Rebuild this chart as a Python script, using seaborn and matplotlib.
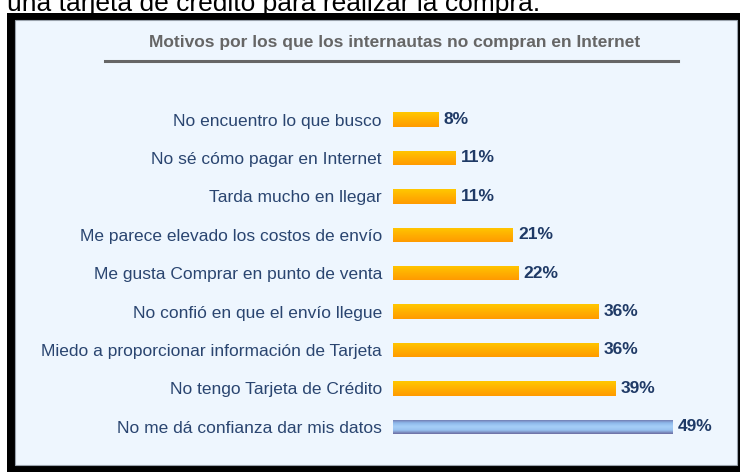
import matplotlib.pyplot as plt
import numpy as np
import pandas as pd
import seaborn as sns
from matplotlib.patches import Rectangle
from matplotlib.colors import LinearSegmentedColormap

motivos = [
    "No encuentro lo que busco",
    "No sé cómo pagar en Internet",
    "Tarda mucho en llegar",
    "Me parece elevado los costos de envío",
    "Me gusta Comprar en punto de venta",
    "No confió en que el envío llegue",
    "Miedo a proporcionar información de Tarjeta",
    "No tengo Tarjeta de Crédito",
    "No me dá confianza dar mis datos",
]
porcentajes = [8, 11, 11, 21, 22, 36, 36, 39, 49]

df = pd.DataFrame({"motivo": motivos, "pct": porcentajes})

W, H = 740, 472
fig = plt.figure(figsize=(W / 100, H / 100), dpi=100)
fig.patch.set_facecolor("white")

# black frame + light panel (pixel coords from top-left)
fig.patches.append(Rectangle((7 / W, 0), 1, 1 - 13 / H, transform=fig.transFigure,
                             facecolor="black", edgecolor="none", zorder=-5))
fig.patches.append(Rectangle((15 / W, 1 - 465 / H), (737 - 15) / W, (465 - 20) / H,
                             transform=fig.transFigure, facecolor="#EEF6FE",
                             edgecolor="#9aa3ad", linewidth=0.8, zorder=-4))

# cut-off line of text above the chart (cropped in the original too)
fig.text(7 / W, 1 - 11 / H, "una tarjeta de crédito para realizar la compra.",
         fontsize=19, family="Liberation Sans", color="black", va="baseline")

fig.text(395 / W, 1 - 42 / H, "Motivos por los que los internautas no compran en Internet",
         fontsize=12.5, fontweight="bold", color="#666666", family="Liberation Sans",
         ha="center", va="center")
fig.add_artist(plt.Line2D([105 / W, 678 / W], [1 - 61 / H, 1 - 61 / H],
                          color="#666666", linewidth=2.2, transform=fig.transFigure))

ax = fig.add_axes([393 / W, 1 - 446 / H, 327 / W, 345.6 / H])
ax.patch.set_alpha(0)
sns.barplot(data=df, x="pct", y="motivo", orient="h", color="#FFB300",
            width=0.38, ax=ax, linewidth=0)

xmax = 327 / 5.714
ax.set_xlim(0, xmax)
ylim = ax.get_ylim()

naranja = LinearSegmentedColormap.from_list("nar", ["#FFC800", "#FFB000", "#FF9A00"])
azul = LinearSegmentedColormap.from_list(
    "az", ["#6A6AA0", "#8DB8EA", "#A6CFF8", "#98C2F0", "#6A699E"])
grad = np.linspace(0, 1, 64).reshape(-1, 1)
for i, p in enumerate(ax.patches):
    x0, y0 = p.get_x(), p.get_y()
    w, h = p.get_width(), p.get_height()
    cmap = azul if i == len(ax.patches) - 1 else naranja
    im = ax.imshow(grad, cmap=cmap, aspect="auto", extent=(x0, x0 + w, y0 + h, y0),
                   zorder=3, interpolation="bicubic")
    im.set_clip_path(p)
    ax.text(x0 + w + 0.9, y0 + h / 2, f"{porcentajes[i]}%", fontsize=12.5,
            fontweight="bold", color="#1F3A66", family="Liberation Sans",
            ha="left", va="center", zorder=4)

ax.set_xlim(0, xmax)
ax.set_ylim(ylim)
ax.set_xlabel("")
ax.set_ylabel("")
ax.set_xticks([])
ax.tick_params(axis="y", length=0, pad=8)
for lbl in ax.get_yticklabels():
    lbl.set_fontsize(12.5)
    lbl.set_color("#2A4570")
    lbl.set_family("Liberation Sans")
for s in ax.spines.values():
    s.set_visible(False)

fig.savefig("out.png", dpi=100)
